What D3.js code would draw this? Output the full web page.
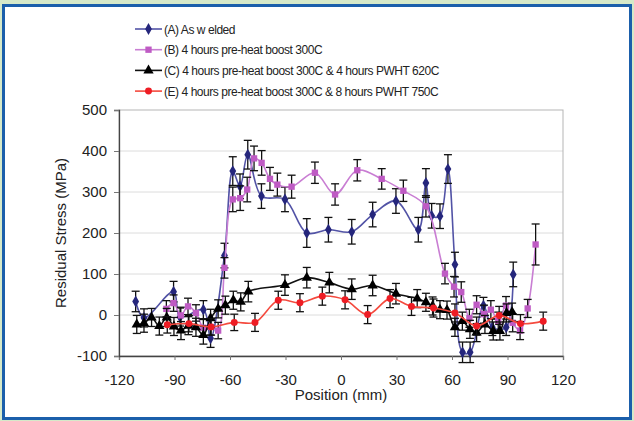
<!DOCTYPE html>
<html>
<head>
<meta charset="utf-8">
<script src="https://cdn.jsdelivr.net/npm/d3@7"></script>
<style>
  body { margin: 0; background: #d6e9c9; }
  svg { display: block; font-family: "Liberation Sans", Arial, sans-serif; }
</style>
</head>
<body>
<div id="chart"></div>
<script>
// data: [position mm, stress MPa, error MPa]
const seriesA = [
  [-111, 33, 25], [-106.5, -7, 22], [-90.5, 57, 25], [-87, -5, 22], [-74.4, 13, 22],
  [-70.5, -57, 22], [-63, 145, 30], [-58.5, 351, 35], [-54.6, 314, 30], [-50.4, 391, 35],
  [-43, 290, 30], [-30.3, 282, 30], [-18.5, 200, 35], [-6.8, 208, 30], [5.8, 203, 30],
  [17.1, 245, 30], [29.7, 278, 30], [41.8, 208, 30], [45.9, 322, 35], [49, 242, 30],
  [53.5, 241, 30], [57.8, 356, 35], [61.6, 123, 30], [65.7, -91, 25], [69.8, -91, 25],
  [77, 23, 20], [81.8, -30, 20], [89.3, -30, 20], [93.1, 99, 30]
];
const seriesB = [
  [-94.4, 15, 20], [-90.5, 29, 20], [-86.6, -1, 20], [-82.7, 21, 20], [-78.4, 5, 20],
  [-74.4, -31, 20], [-70.6, -29, 20], [-66.4, -38, 20], [-63, 115, 25], [-58.5, 282, 30],
  [-54.5, 285, 30], [-50.7, 306, 30], [-47, 382, 30], [-42.9, 371, 30], [-38.4, 332, 28],
  [-34.4, 318, 28], [-26.7, 313, 28], [-14.1, 347, 26], [-3.2, 294, 26], [8.8, 353, 26],
  [22, 332, 25], [33.7, 303, 26], [45.9, 265, 26], [56.2, 101, 25], [61.1, 69, 25],
  [65, 56, 25], [69.4, -8, 22], [73.3, 25, 22], [77.3, 2, 22], [81, 13, 22],
  [85, -15, 22], [89.2, 23, 22], [92.8, -19, 22], [96.8, -38, 22], [100.9, 16, 22],
  [105.2, 172, 50]
];
const seriesC = [
  [-110.4, -23, 22], [-106.5, -20, 22], [-102.4, -6, 22], [-98.2, -27, 22], [-94.2, -6, 22],
  [-90.3, -28, 22], [-86.5, -38, 22], [-82.5, -26, 22], [-78.4, -30, 22], [-74.4, -49, 22],
  [-70.5, -8, 22], [-66.4, 15, 22], [-62.5, 24, 22], [-58.2, 36, 22], [-54.2, 32, 22],
  [-50.1, 57, 25], [-30.3, 73, 25], [-18.5, 91, 25], [-6.3, 79, 25], [5.8, 63, 25],
  [17.1, 72, 25], [29.7, 52, 25], [41.2, 40, 22], [45.9, 31, 22], [49.5, 22, 22],
  [53.5, 13, 22], [57.3, 12, 22], [61.6, -30, 22], [65.6, -15, 22], [69.7, -35, 22],
  [73.3, -43, 22], [77.8, -23, 22], [82.3, -39, 22], [85.9, -39, 22], [89.5, 5, 22],
  [92.5, 7, 22]
];
const seriesE = [
  [-93.9, -24, 20], [-82.2, -21, 20], [-70.2, -29, 20], [-57.7, -18, 20], [-46.5, -18, 22],
  [-33.9, 36, 22], [-22.2, 30, 22], [-10.1, 46, 22], [2.2, 37, 22], [14.4, 1, 22],
  [26.5, 40, 22], [38.1, 21, 22], [50, 17, 22], [61.6, 5, 22], [73.3, -27, 22],
  [85.5, -1, 22], [97, -21, 22], [109.3, -15, 22]
];
const seriesNames = [
  '(A) As w elded',
  '(B) 4 hours pre-heat boost 300C',
  '(C) 4 hours pre-heat boost 300C & 4 hours PWHT 620C',
  '(E) 4 hours pre-heat boost 300C & 8 hours PWHT 750C'
];
const xTicks = [-120, -90, -60, -30, 0, 30, 60, 90, 120];
const yTicks = [-100, 0, 100, 200, 300, 400, 500];

const width = 634, height = 421;
const margin = { left: 119, right: 71, top: 110, bottom: 65 };

const series = [
  { data: seriesA, line: '#5253a6', fill: '#25267c', shape: d3.symbolDiamond, size: 40 },
  { data: seriesB, line: '#c97ed3', fill: '#bf5bc4', shape: d3.symbolSquare, size: 40 },
  { data: seriesC, line: '#111', fill: '#000', shape: d3.symbolTriangle, size: 46 },
  { data: seriesE, line: '#f44a3e', fill: '#ee1c24', shape: d3.symbolCircle, size: 38 }
];

const svg = d3.select('#chart').append('svg')
  .attr('width', width).attr('height', height);

// outer panel
svg.append('rect').attr('width', width).attr('height', height).attr('fill', '#d6e9c9');
svg.append('rect')
  .attr('x', 3.5).attr('y', 5.5).attr('width', 627).attr('height', 413)
  .attr('fill', '#fff').attr('stroke', '#1b5fab').attr('stroke-width', 3);

const x = d3.scaleLinear().domain([-120, 120]).range([margin.left, width - margin.right]);
const y = d3.scaleLinear().domain([-100, 500]).range([height - margin.bottom, margin.top]);

// grid + frame
svg.append('g').selectAll('line').data(yTicks.slice(1, -1)).join('line')
  .attr('x1', x(-120)).attr('x2', x(120))
  .attr('y1', d => y(d)).attr('y2', d => y(d))
  .attr('stroke', '#dcdcdc');
svg.append('rect')
  .attr('x', x(-120)).attr('y', y(500))
  .attr('width', x(120) - x(-120)).attr('height', y(-100) - y(500))
  .attr('fill', 'none').attr('stroke', '#b5b5b5');

// axes (plain hyphen for negatives, like the original)
const fmt = d => String(d);
const gx = svg.append('g')
  .attr('transform', `translate(0,${y(-100)})`)
  .call(d3.axisBottom(x).tickValues(xTicks).tickFormat(fmt).tickSize(4).tickPadding(14));
const gy = svg.append('g')
  .attr('transform', `translate(${x(-120)},0)`)
  .call(d3.axisLeft(y).tickValues(yTicks).tickFormat(fmt).tickSize(5).tickPadding(7));
[gx, gy].forEach(g => {
  g.select('.domain').attr('stroke', '#444').attr('stroke-width', 1.3);
  g.selectAll('.tick line').attr('stroke', '#777');
  g.selectAll('.tick text').attr('font-size', 15).attr('fill', '#222')
    .attr('font-family', '"Liberation Sans", Arial, sans-serif');
});

svg.append('text')
  .attr('x', x(0)).attr('y', 400)
  .attr('text-anchor', 'middle').attr('font-size', 15).attr('fill', '#222')
  .text('Position (mm)');
svg.append('text')
  .attr('transform', `translate(66,${(y(500) + y(-100)) / 2}) rotate(-90)`)
  .attr('text-anchor', 'middle').attr('font-size', 15).attr('fill', '#222')
  .text('Residual Stress (MPa)');

// series
const line = d3.line().x(d => x(d[0])).y(d => y(d[1])).curve(d3.curveCatmullRom.alpha(0.5));

series.forEach(s => {
  const g = svg.append('g');
  g.append('path').datum(s.data)
    .attr('d', line).attr('fill', 'none')
    .attr('stroke', s.line).attr('stroke-width', 1.6);

  const eb = g.append('g').attr('stroke', '#111').attr('stroke-width', 1.3)
    .selectAll('g').data(s.data).join('g');
  eb.append('line')
    .attr('x1', d => x(d[0])).attr('x2', d => x(d[0]))
    .attr('y1', d => y(d[1] + d[2])).attr('y2', d => y(d[1] - d[2]));
  eb.append('line')
    .attr('x1', d => x(d[0]) - 4).attr('x2', d => x(d[0]) + 4)
    .attr('y1', d => y(d[1] + d[2])).attr('y2', d => y(d[1] + d[2]));
  eb.append('line')
    .attr('x1', d => x(d[0]) - 4).attr('x2', d => x(d[0]) + 4)
    .attr('y1', d => y(d[1] - d[2])).attr('y2', d => y(d[1] - d[2]));

  g.append('g').selectAll('path').data(s.data).join('path')
    .attr('transform', d => `translate(${x(d[0])},${y(d[1])})`)
    .attr('d', d3.symbol().type(s.shape).size(s.size))
    .attr('fill', s.fill);
});

// legend
const legend = svg.append('g').selectAll('g').data(series).join('g')
  .attr('transform', (d, i) => `translate(135,${29 + i * 20.7})`);
legend.append('line')
  .attr('x1', 0).attr('x2', 27)
  .attr('stroke', d => d.line).attr('stroke-width', 1.6);
legend.append('path')
  .attr('transform', 'translate(13.5,0)')
  .attr('d', d => d3.symbol().type(d.shape).size(d.size)())
  .attr('fill', d => d.fill);
legend.append('text')
  .attr('x', 29).attr('y', 4.5)
  .attr('font-size', 12).attr('letter-spacing', -0.45).attr('fill', '#222')
  .text((d, i) => seriesNames[i]);
</script>
</body>
</html>
